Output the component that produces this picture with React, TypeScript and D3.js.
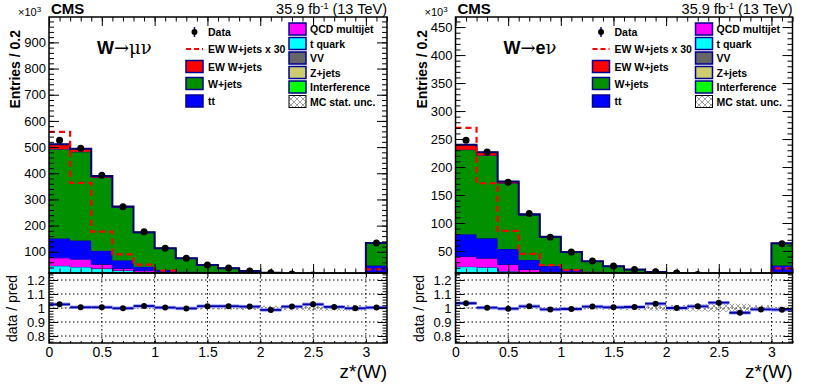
import React, { useEffect, useRef } from 'react';
import * as d3 from 'd3';

// z*(W) binning, the last bin carries the overflow
const binEdges = [0, 0.2, 0.4, 0.6, 0.8, 1.0, 1.2, 1.4, 1.6, 1.8, 2.0, 2.2, 2.4, 2.6, 2.8, 3.0, 3.2];

// W -> mu nu, entries in units of 10^3
const muData = [526, 496, 392, 272, 177, 114, 75, 50, 38, 27, 20, 15, 11, 8, 6, 134];
const muEW = [18.6, 12.1, 5.9, 3.0, 1.7, 0.93, 0.6, 0.4, 0.3, 0.23, 0.17, 0.13, 0.1, 0.08, 0.07, 1.1];
const muWjets = [341, 339, 280, 202, 130, 82.7, 50.6, 29, 20.2, 13.5, 10.1, 7.3, 5.1, 3.8, 2.9, 84.5];
const muTT = [74, 71, 52, 32, 15, 11.1, 11.2, 11.5, 10.4, 7.8, 6.5, 4.7, 3.5, 2.1, 1.8, 27];
const muQCD = [30.5, 29.8, 16, 7.2, 4.9, 3, 2, 1.5, 1, 1, 0.5, 0.5, 0.3, 0.3, 0.2, 5];
const muTquark = [34, 31, 27, 22, 18, 12, 8, 5, 4, 3, 2, 1.5, 1, 1, 0.5, 8];
const muVV = [5.5, 4.9, 4, 3, 2.3, 1.8, 1.3, 0.9, 0.8, 0.5, 0.5, 0.4, 0.3, 0.3, 0.2, 3.5];
const muZjets = [5, 4.5, 3.6, 2.8, 2, 1.5, 1.1, 0.8, 0.6, 0.5, 0.4, 0.3, 0.3, 0.2, 0.2, 3];
const muInterf = [2, 1.8, 1.4, 1, 0.8, 0.6, 0.4, 0.3, 0.2, 0.2, 0.1, 0.1, 0.1, 0.1, 0.1, 1.5];
const muRatio = [1.026, 1.005, 1.005, 0.998, 1.014, 1.003, 0.997, 1.013, 1.013, 1.01, 0.986, 1.01, 1.026, 1.008, 0.998, 1.003];
const muStatUnc = [0.003, 0.003, 0.003, 0.004, 0.005, 0.006, 0.008, 0.01, 0.012, 0.014, 0.016, 0.018, 0.02, 0.02, 0.022, 0.008];

// W -> e nu
const eData = [248, 227, 173, 117, 74.5, 48, 32, 23, 17, 13, 10.5, 8, 6, 4.5, 3.5, 63];
const eEW = [9, 5.7, 2.87, 1.5, 0.83, 0.53, 0.37, 0.27, 0.2, 0.15, 0.12, 0.08, 0.07, 0.05, 0.04, 0.63];
const eWjets = [151, 148.2, 117.5, 80.1, 51.5, 30.8, 18.3, 12.1, 8.2, 6, 5.4, 3.8, 2.7, 2.45, 1.86, 39.2];
const eTT = [40, 35.6, 27.6, 17, 10, 8, 6.5, 6, 5.2, 3.9, 2.9, 2.3, 1.7, 1.2, 0.8, 11];
const eQCD = [18, 16, 12, 6, 5, 3, 2, 1.5, 1, 0.8, 0.6, 0.5, 0.4, 0.3, 0.2, 4];
const eTquark = [16, 15.5, 9.5, 7.5, 5.5, 4, 3, 2, 1.5, 1.2, 1, 0.8, 0.6, 0.5, 0.4, 5];
const eVV = [2.5, 2.4, 2, 1.5, 1.1, 0.9, 0.7, 0.5, 0.4, 0.3, 0.2, 0.2, 0.15, 0.1, 0.1, 2];
const eZjets = [2.5, 2.3, 1.9, 1.5, 1.1, 0.9, 0.6, 0.4, 0.3, 0.2, 0.2, 0.15, 0.1, 0.05, 0.05, 1.5];
const eInterf = [1, 0.8, 0.6, 0.5, 0.3, 0.2, 0.2, 0.1, 0.1, 0.1, 0.1, 0.05, 0.05, 0.05, 0.05, 0.5];
const eRatio = [1.034, 1.002, 0.995, 1.012, 0.99, 0.993, 1.01, 1.005, 1.007, 1.031, 1.0, 1.012, 1.038, 0.966, 0.99, 0.988];
const eStatUnc = [0.004, 0.004, 0.005, 0.006, 0.007, 0.009, 0.011, 0.013, 0.016, 0.02, 0.022, 0.025, 0.028, 0.03, 0.02, 0.01];

// tick labels
const xTicks = [0, 0.5, 1, 1.5, 2, 2.5, 3];
const muYTicks = [100, 200, 300, 400, 500, 600, 700, 800, 900];
const eYTicks = [50, 100, 150, 200, 250, 300, 350, 400, 450];
const ratioTicks = [0.8, 0.9, 1, 1.1, 1.2];

const legendLeft = ['Data', 'EW W+jets x 30', 'EW W+jets', 'W+jets', 'tt'];
const legendRight = ['QCD multijet', 't quark', 'VV', 'Z+jets', 'Interference', 'MC stat. unc.'];

// stacking order, bottom first
const stackKeys = ['interf', 'zjets', 'vv', 'tquark', 'qcd', 'tt', 'wjets', 'ew'];
const colors: Record<string, string> = {
  interf: '#00ff00', zjets: '#cccc70', vv: '#666666', tquark: '#00ffff',
  qcd: '#ff00ff', tt: '#0000ff', wjets: '#009000', ew: '#ff0000',
};

const FONT = "'Liberation Sans', Arial, Helvetica, sans-serif";
const SYMBOL = "'DejaVu Serif', 'Liberation Serif', serif";
const UP_TOP = 17, UP_BOTTOM = 273, RAT_TOP = 273, RAT_BOTTOM = 343;

const panels = [
  {
    x0: 49, x1: 387, yDomain: [19, 997], yTicks: muYTicks, yMinor: 20, lepton: 'mu',
    data: muData, ratio: muRatio, unc: muStatUnc,
    procs: { interf: muInterf, zjets: muZjets, vv: muVV, tquark: muTquark, qcd: muQCD, tt: muTT, wjets: muWjets, ew: muEW },
  },
  {
    x0: 455.5, x1: 792.5, yDomain: [10.7, 468], yTicks: eYTicks, yMinor: 10, lepton: 'e',
    data: eData, ratio: eRatio, unc: eStatUnc,
    procs: { interf: eInterf, zjets: eZjets, vv: eVV, tquark: eTquark, qcd: eQCD, tt: eTT, wjets: eWjets, ew: eEW },
  },
];

// one axis (major or minor ticks), domain line removed, frame is drawn on its own
function axis(g: any, maker: any, scale: any, values: number[], size: number, at: string, fmt?: (d: number) => string, fs = 13, pad = 4) {
  const a = maker(scale).tickValues(values).tickSize(size).tickPadding(pad)
    .tickFormat(fmt ? fmt : () => '');
  const s = g.append('g').attr('transform', at).call(a);
  s.select('.domain').remove();
  s.selectAll('line').attr('stroke', '#000').attr('stroke-width', 1);
  s.selectAll('text').attr('font-family', FONT).attr('font-size', fs).attr('fill', '#000');
  return s;
}

function drawPanel(svg: any, defs: any, cfg: any, idx: number) {
  const g = svg.append('g');
  const nb = binEdges.length - 1;
  const x = d3.scaleLinear().domain([0, 3.2]).range([cfg.x0, cfg.x1]);
  const y = d3.scaleLinear().domain(cfg.yDomain).range([UP_BOTTOM, UP_TOP]);
  const r = d3.scaleLinear().domain([0.75, 1.25]).range([RAT_BOTTOM, RAT_TOP]);
  const w = cfg.x1 - cfg.x0;

  defs.append('clipPath').attr('id', `up${idx}`).append('rect')
    .attr('x', cfg.x0).attr('y', UP_TOP).attr('width', w).attr('height', UP_BOTTOM - UP_TOP);
  defs.append('clipPath').attr('id', `rat${idx}`).append('rect')
    .attr('x', cfg.x0).attr('y', RAT_TOP).attr('width', w).attr('height', RAT_BOTTOM - RAT_TOP);

  // ---- stacked histograms ----
  const up = g.append('g').attr('clip-path', `url(#up${idx})`);
  const rows = d3.range(nb).map((i) => Object.fromEntries(stackKeys.map((k) => [k, cfg.procs[k][i]])));
  const layers = d3.stack().keys(stackKeys)(rows as any);
  // repeat the last bin so the step reaches the right edge
  const stepPts = (lo: number[], hi: number[]) => binEdges.map((e, i) => [e, lo[Math.min(i, nb - 1)], hi[Math.min(i, nb - 1)]]);
  const area = d3.area<any>().curve(d3.curveStepAfter).x((d) => x(d[0])).y0((d) => y(d[1])).y1((d) => y(d[2]));
  const topLine = d3.line<any>().curve(d3.curveStepAfter).x((d) => x(d[0])).y((d) => y(d[2]));

  layers.forEach((layer: any) => {
    const pts = stepPts(layer.map((d: any) => d[0]), layer.map((d: any) => d[1]));
    up.append('path').attr('d', area(pts)).attr('fill', colors[layer.key]);
    up.append('path').attr('d', topLine(pts)).attr('fill', 'none').attr('stroke', '#000080').attr('stroke-width', 1);
  });
  const total = layers[layers.length - 1].map((d: any) => d[1]);
  up.append('path').attr('d', topLine(stepPts(total, total)))
    .attr('fill', 'none').attr('stroke', '#000070').attr('stroke-width', 2);

  // EW x 30 dashed
  const ew30 = cfg.procs.ew.map((v: number) => v * 30);
  up.append('path').attr('d', topLine(stepPts(ew30, ew30)))
    .attr('fill', 'none').attr('stroke', '#ff0000').attr('stroke-width', 2.2).attr('stroke-dasharray', '6,4');

  const centers = d3.range(nb).map((i) => (binEdges[i] + binEdges[i + 1]) / 2);
  up.selectAll('circle.data').data(cfg.data).join('circle')
    .attr('cx', (_: any, i: number) => x(centers[i])).attr('cy', (d: number) => y(d)).attr('r', 3.5).attr('fill', '#000');

  // ---- ratio pad ----
  const rat = g.append('g').attr('clip-path', `url(#rat${idx})`);
  xTicks.filter((t) => t > 0).forEach((t) => {
    rat.append('line').attr('x1', x(t)).attr('x2', x(t)).attr('y1', RAT_TOP).attr('y2', RAT_BOTTOM)
      .attr('stroke', '#000').attr('stroke-width', 1).attr('stroke-dasharray', '1.5,2.5');
  });
  ratioTicks.forEach((t) => {
    rat.append('line').attr('x1', cfg.x0).attr('x2', cfg.x1).attr('y1', r(t)).attr('y2', r(t))
      .attr('stroke', '#000').attr('stroke-width', 1).attr('stroke-dasharray', '1.5,2.5');
  });
  cfg.unc.forEach((u: number, i: number) => {
    rat.append('rect').attr('x', x(binEdges[i])).attr('width', x(binEdges[i + 1]) - x(binEdges[i]))
      .attr('y', r(1 + u)).attr('height', r(1 - u) - r(1 + u)).attr('fill', 'url(#mcHatch)');
  });
  cfg.ratio.forEach((v: number, i: number) => {
    rat.append('line').attr('x1', x(binEdges[i])).attr('x2', x(binEdges[i + 1])).attr('y1', r(v)).attr('y2', r(v))
      .attr('stroke', '#9a9aff').attr('stroke-width', 3.5);
    rat.append('line').attr('x1', x(binEdges[i])).attr('x2', x(binEdges[i + 1])).attr('y1', r(v)).attr('y2', r(v))
      .attr('stroke', '#0000b0').attr('stroke-width', 1.8);
  });
  rat.selectAll('circle.ratio').data(cfg.ratio).join('circle')
    .attr('cx', (_: any, i: number) => x(centers[i])).attr('cy', (d: number) => r(d)).attr('r', 3).attr('fill', '#000');

  // ---- axes ----
  const xMinor = d3.range(0, 3.21, 0.1);
  const yMinor = d3.range(cfg.yMinor, cfg.yDomain[1], cfg.yMinor);
  const rMinor = d3.range(0.76, 1.25, 0.02);
  axis(g, d3.axisLeft, y, cfg.yTicks, -10, `translate(${cfg.x0},0)`, (d) => String(d), 13, 3);
  axis(g, d3.axisLeft, y, yMinor, -5, `translate(${cfg.x0},0)`);
  axis(g, d3.axisRight, y, cfg.yTicks, -10, `translate(${cfg.x1},0)`);
  axis(g, d3.axisRight, y, yMinor, -5, `translate(${cfg.x1},0)`);
  axis(g, d3.axisBottom, x, xTicks, -9, `translate(0,${UP_BOTTOM})`);
  axis(g, d3.axisBottom, x, xMinor, -4.5, `translate(0,${UP_BOTTOM})`);
  axis(g, d3.axisTop, x, xTicks, -9, `translate(0,${UP_TOP})`);
  axis(g, d3.axisTop, x, xMinor, -4.5, `translate(0,${UP_TOP})`);

  axis(g, d3.axisLeft, r, ratioTicks, -9, `translate(${cfg.x0},0)`, (d) => String(d), 13, 4);
  axis(g, d3.axisLeft, r, rMinor, -4.5, `translate(${cfg.x0},0)`);
  axis(g, d3.axisRight, r, ratioTicks, -9, `translate(${cfg.x1},0)`);
  axis(g, d3.axisRight, r, rMinor, -4.5, `translate(${cfg.x1},0)`);
  axis(g, d3.axisBottom, x, xTicks, -4, `translate(0,${RAT_BOTTOM})`, (d) => String(d), 14, 4);
  axis(g, d3.axisBottom, x, xMinor, -2, `translate(0,${RAT_BOTTOM})`);
  axis(g, d3.axisTop, x, xTicks, -4, `translate(0,${RAT_TOP})`);

  // frames
  g.append('rect').attr('x', cfg.x0).attr('y', UP_TOP).attr('width', w).attr('height', UP_BOTTOM - UP_TOP)
    .attr('fill', 'none').attr('stroke', '#000').attr('stroke-width', 1.5);
  g.append('rect').attr('x', cfg.x0).attr('y', RAT_TOP).attr('width', w).attr('height', RAT_BOTTOM - RAT_TOP)
    .attr('fill', 'none').attr('stroke', '#000').attr('stroke-width', 1.5);

  // ---- texts ----
  const txt = (tx: number, ty: number, s: string, size: number, weight = 'normal', anchor = 'start') =>
    g.append('text').attr('x', tx).attr('y', ty).attr('font-family', FONT).attr('font-size', size)
      .attr('font-weight', weight).attr('text-anchor', anchor).attr('fill', '#000').text(s);

  txt(cfg.x0 + 2, 13.5, 'CMS', 15, 'bold');
  const lumi = txt(cfg.x1, 14, '35.9 fb', 14.5, 'normal', 'end');
  lumi.append('tspan').attr('font-size', 9).attr('dy', -5).text('-1');
  lumi.append('tspan').attr('dy', 5).text(' (13 TeV)');
  const exp = txt(cfg.x0 - 31, 16, '\u00d710', 11);
  exp.append('tspan').attr('font-size', 8).attr('dy', -4).text('3');

  g.append('text').attr('transform', `translate(${cfg.x0 - 29},${UP_TOP + 13}) rotate(-90)`)
    .attr('font-family', FONT).attr('font-size', 14).attr('font-weight', 'bold').attr('text-anchor', 'end')
    .text('Entries / 0.2');
  g.append('text').attr('transform', `translate(${cfg.x0 - 32},${RAT_TOP + 2}) rotate(-90)`)
    .attr('font-family', FONT).attr('font-size', 14).attr('text-anchor', 'end')
    .text('data / pred');
  txt(cfg.x1, 378, 'z*(W)', 19, 'normal', 'end');

  // channel label
  const ch = g.append('text').attr('x', cfg.x0 + 48).attr('y', 53.5).attr('font-size', 18).attr('fill', '#000');
  ch.append('tspan').attr('font-family', FONT).attr('font-weight', 'bold').text('W');
  if (cfg.lepton === 'mu') {
    ch.append('tspan').attr('font-family', SYMBOL).text('\u2192\u03bc\u03bd');
  } else {
    ch.append('tspan').attr('font-family', SYMBOL).text('\u2192');
    ch.append('tspan').attr('font-family', FONT).attr('font-weight', 'bold').text('e');
    ch.append('tspan').attr('font-family', SYMBOL).text('\u03bd');
  }

  // ---- legend ----
  const rowsL = [32, 49, 66.5, 83.5, 101];
  const rowsR = [29, 43.5, 58, 72.5, 87, 101.5];
  const leftFill = [null, null, colors.ew, colors.wjets, colors.tt];
  const rightFill = [colors.qcd, colors.tquark, colors.vv, colors.zjets, colors.interf, 'url(#mcHatch)'];
  const bx = cfg.x0 + 137, bx2 = cfg.x0 + 240, bw = 17, bh = 12;
  legendLeft.forEach((label, i) => {
    const cy = rowsL[i];
    if (i === 0) {
      g.append('line').attr('x1', bx + bw / 2).attr('x2', bx + bw / 2).attr('y1', cy - 5).attr('y2', cy + 5)
        .attr('stroke', '#000090').attr('stroke-width', 1.5);
      g.append('circle').attr('cx', bx + bw / 2).attr('cy', cy).attr('r', 3).attr('fill', '#000');
    } else if (i === 1) {
      g.append('line').attr('x1', bx).attr('x2', bx + bw).attr('y1', cy).attr('y2', cy)
        .attr('stroke', '#ff0000').attr('stroke-width', 2.2).attr('stroke-dasharray', '5,3');
    } else {
      g.append('rect').attr('x', bx).attr('y', cy - bh / 2).attr('width', bw).attr('height', bh)
        .attr('fill', leftFill[i]).attr('stroke', '#000090').attr('stroke-width', 1.5);
    }
    txt(cfg.x0 + 159, cy + 4, label, 10.5, 'bold');
  });
  legendRight.forEach((label, i) => {
    const cy = rowsR[i];
    g.append('rect').attr('x', bx2).attr('y', cy - bh / 2).attr('width', bw).attr('height', bh)
      .attr('fill', rightFill[i]).attr('stroke', i === 5 ? '#000' : '#000090').attr('stroke-width', i === 5 ? 1 : 1.5);
    txt(cfg.x0 + 261, cy + 4, label, 10.5, 'bold');
  });
}

export default function App() {
  const ref = useRef<SVGSVGElement>(null);

  useEffect(() => {
    const svg = d3.select(ref.current);
    svg.selectAll('*').remove();
    const defs = svg.append('defs');
    const pat = defs.append('pattern').attr('id', 'mcHatch').attr('patternUnits', 'userSpaceOnUse')
      .attr('width', 6).attr('height', 6);
    pat.append('path').attr('d', 'M0,0L6,6M6,0L0,6').attr('stroke', '#888').attr('stroke-width', 0.8);
    panels.forEach((p, i) => drawPanel(svg, defs, p, i));
  }, []);

  return (
    <svg ref={ref} width={814} height={391}
      style={{ position: 'absolute', left: 0, top: 0, background: '#fff' }} />
  );
}
